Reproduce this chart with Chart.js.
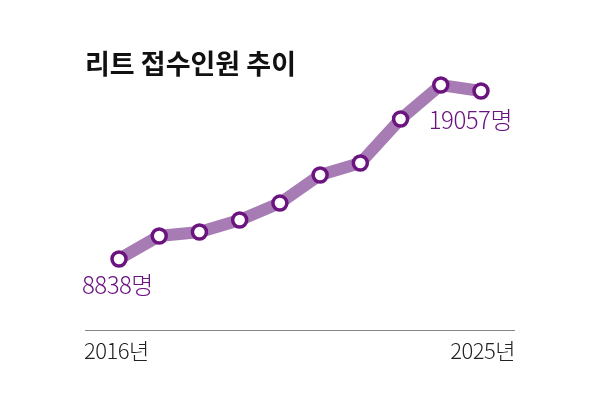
<!DOCTYPE html>
<html lang="ko">
<head>
<meta charset="UTF-8">
<script src="https://cdn.jsdelivr.net/npm/chart.js"></script>
<style>
  body { margin: 0; background: #fff; }
  #wrap { width: 600px; height: 400px; position: relative; }
</style>
</head>
<body>
<div id="wrap"><canvas id="c" width="600" height="400"></canvas></div>
<script>
const years = ['2016', '2017', '2018', '2019', '2020', '2021', '2022', '2023', '2024', '2025'];
const applicants = [8838, 10240, 10480, 11210, 12240, 13950, 14680, 17350, 19420, 19057];
const firstLabel = '2016년';
const lastLabel = '2025년';

const FONT = '"Noto Sans CJK KR", "Noto Sans", sans-serif';

// title, axis line, year labels and value callouts
const decorations = {
  id: 'decorations',
  afterDatasetsDraw(chart) {
    const ctx = chart.ctx;
    ctx.save();
    ctx.fillStyle = '#111';
    ctx.font = 'bold 27px ' + FONT;
    ctx.textBaseline = 'middle';
    ctx.fillText('리트 접수인원 추이', 85, 64);

    ctx.strokeStyle = '#888';
    ctx.lineWidth = 1;
    ctx.beginPath();
    ctx.moveTo(85, 330.5);
    ctx.lineTo(515, 330.5);
    ctx.stroke();

    ctx.fillStyle = '#222';
    ctx.font = '300 22px ' + FONT;
    ctx.letterSpacing = '-0.5px';
    ctx.textAlign = 'left';
    ctx.fillText(firstLabel, 84, 351);
    ctx.textAlign = 'right';
    ctx.fillText(lastLabel, 515, 351);

    ctx.fillStyle = '#6b1480';
    ctx.font = '300 24px ' + FONT;
    ctx.letterSpacing = '-0.5px';
    ctx.textAlign = 'left';
    ctx.fillText(applicants[0] + '명', 82, 285);
    ctx.textAlign = 'right';
    ctx.fillText(applicants[applicants.length - 1] + '명', 512, 120);
    ctx.restore();
  }
};

new Chart(document.getElementById('c'), {
  type: 'line',
  data: {
    labels: years,
    datasets: [{
      data: applicants,
      borderColor: '#a77bb3',
      borderWidth: 12,
      tension: 0,
      pointRadius: 7,
      pointBorderWidth: 3.5,
      pointBackgroundColor: '#fff',
      pointBorderColor: '#6b1480',
      clip: false
    }]
  },
  options: {
    responsive: false,
    animation: false,
    layout: { padding: { left: 119, right: 119, top: 80, bottom: 70 } },
    plugins: { legend: { display: false }, tooltip: { enabled: false } },
    scales: {
      x: { display: false, offset: false },
      y: { display: false, min: 4519, max: 19726 }
    }
  },
  plugins: [decorations]
});
</script>
</body>
</html>
